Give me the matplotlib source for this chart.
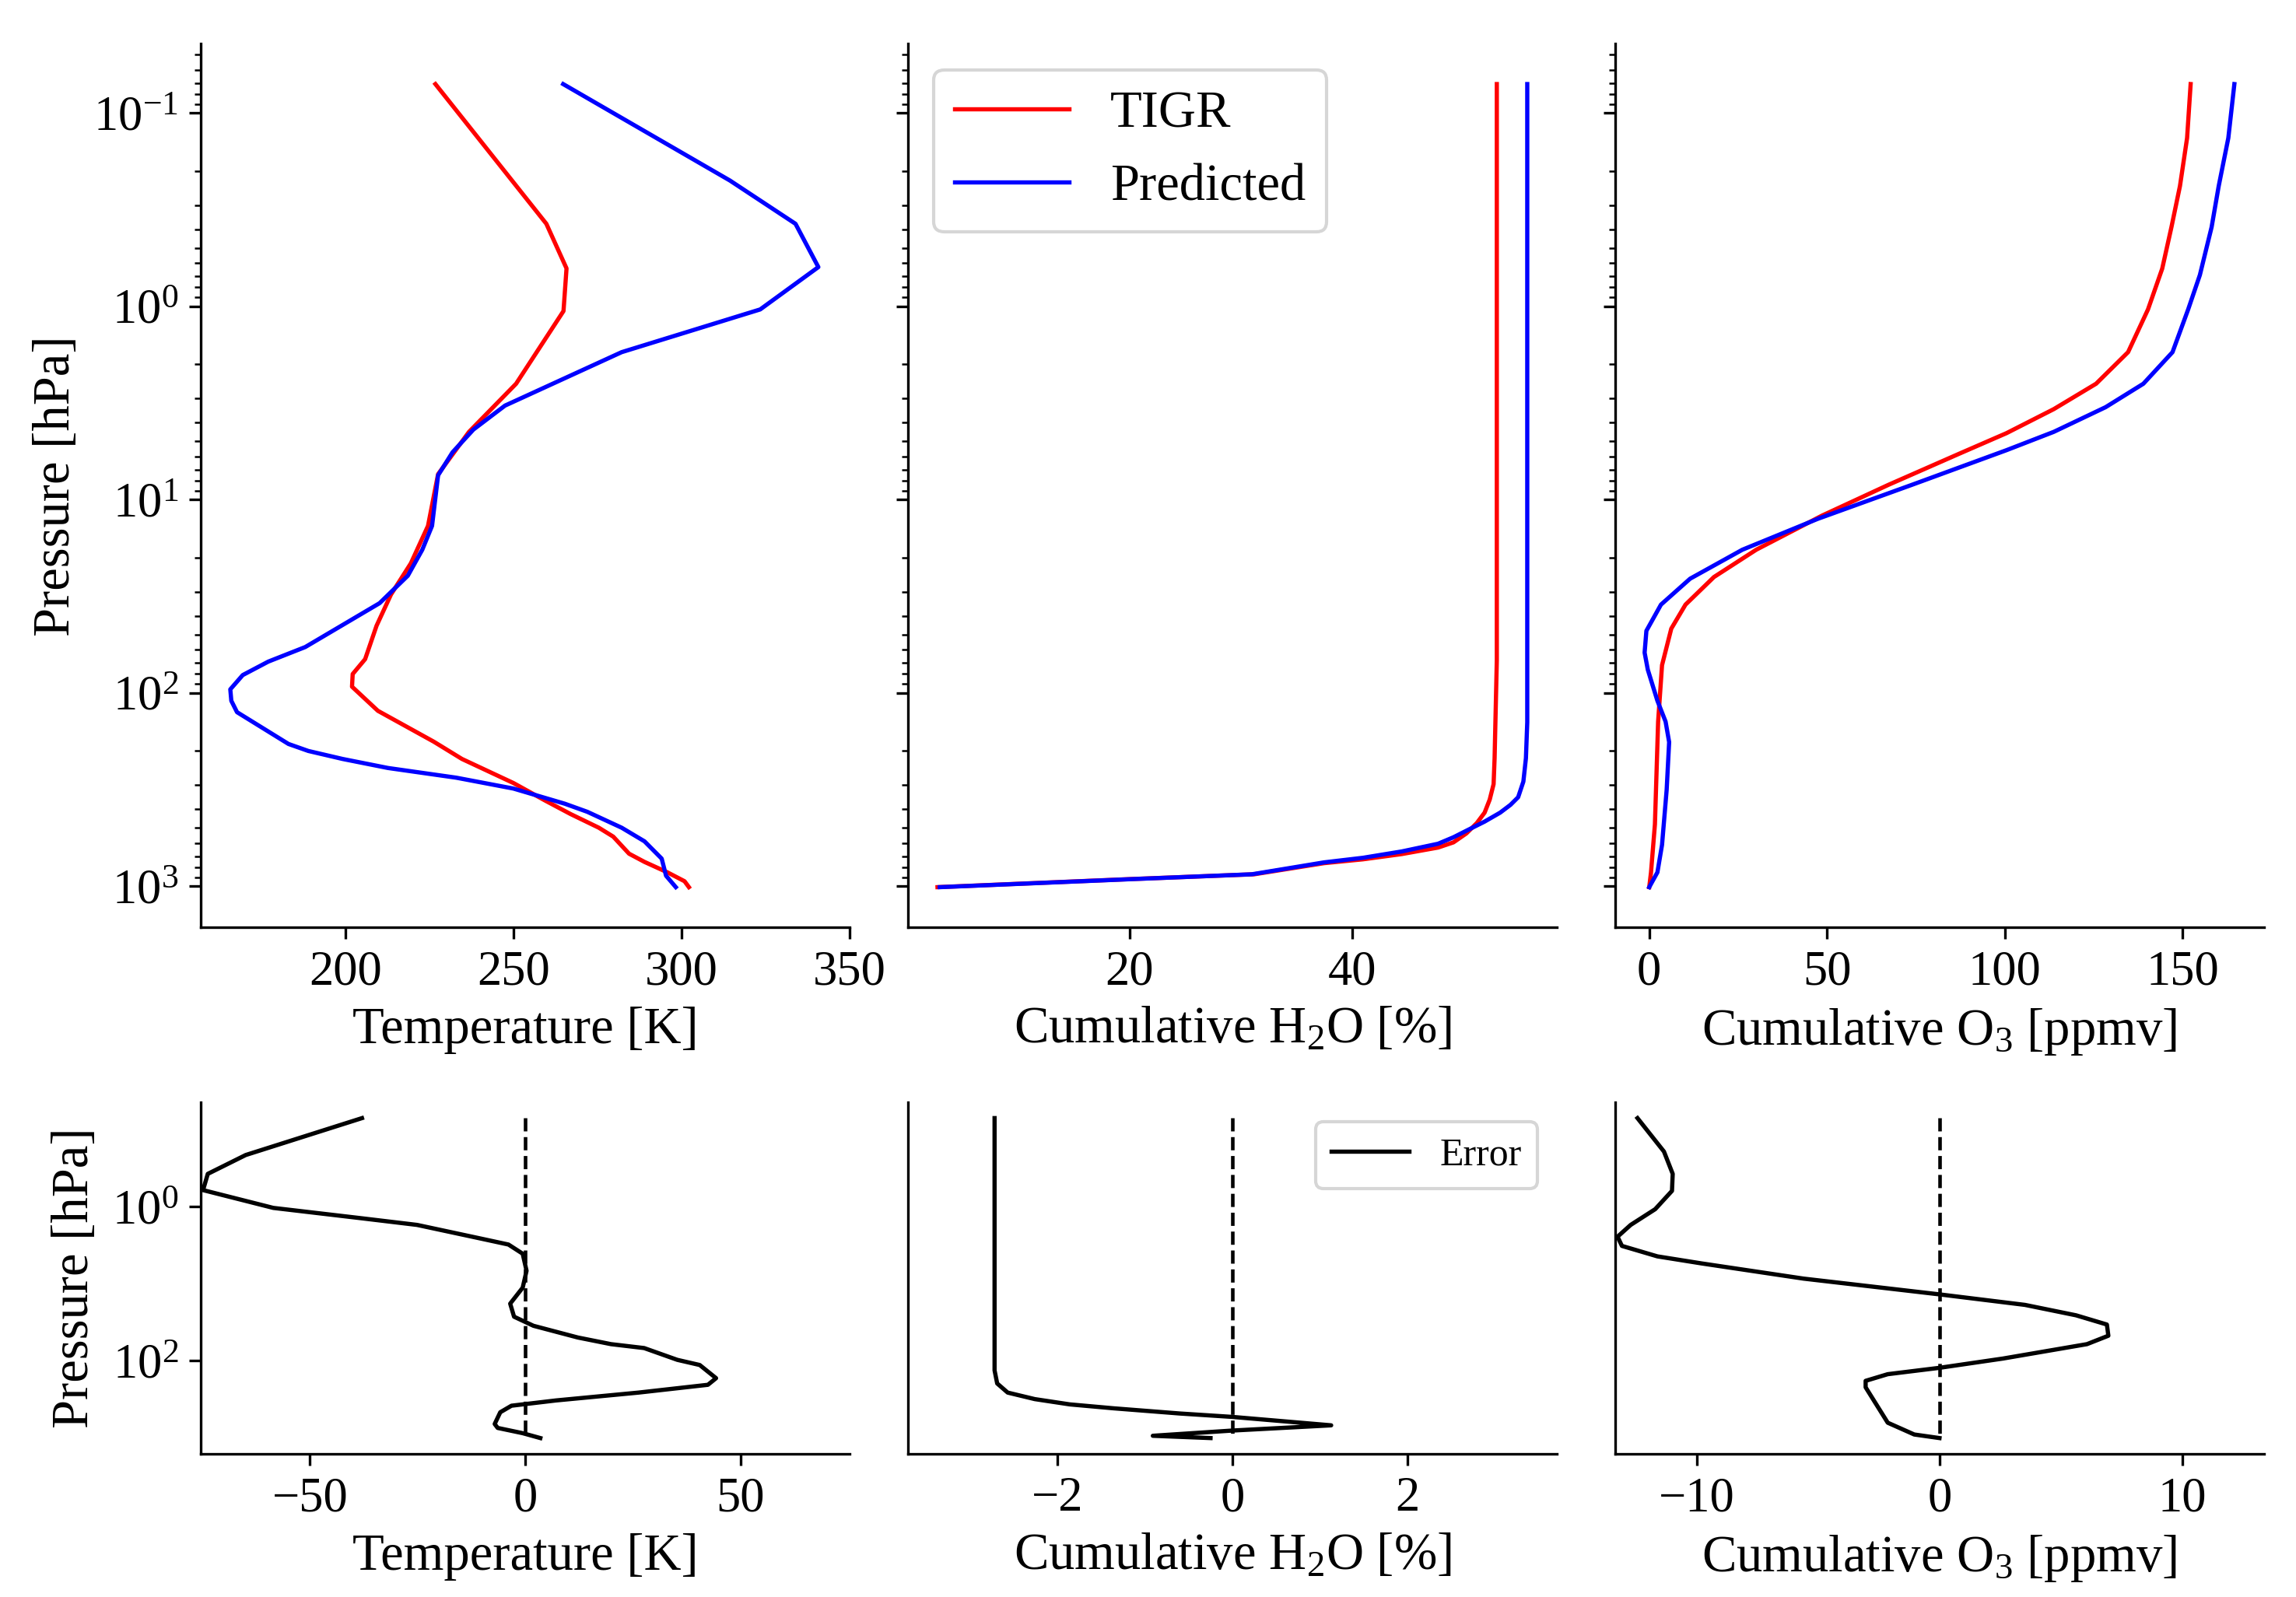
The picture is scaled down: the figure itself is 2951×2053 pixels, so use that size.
import matplotlib
matplotlib.use("Agg")
import matplotlib.pyplot as plt
from matplotlib.ticker import NullLocator

plt.rcParams['font.family'] = ['Liberation Serif', 'DejaVu Serif']
plt.rcParams['mathtext.fontset'] = 'custom'
plt.rcParams['mathtext.rm'] = 'Liberation Serif'
plt.rcParams['mathtext.it'] = 'Liberation Serif:italic'
plt.rcParams['mathtext.bf'] = 'Liberation Serif:bold'

# ---- profiles ----
p_t_tigr = [0.071, 0.375, 0.638, 1.06, 2.52, 4.47, 7.4, 13.7, 21.4, 31, 45, 67, 80, 93,
            124, 179, 220, 293, 360, 424, 499, 555, 680, 750, 849, 944, 1013]
t_tigr = [226.8, 259.8, 265.8, 264.9, 250.8, 236.8, 227.6, 224.6, 219.5, 213.6, 209.3, 205.9,
          202.2, 202.0, 209.7, 226.3, 234.7, 250.0, 259.3, 267.0, 275.4, 279.7, 284.4, 289.0,
          295.8, 300.9, 302.2]

p_t_pred = [0.071, 0.224, 0.375, 0.628, 1.04, 1.73, 3.27, 4.35, 5.7, 7.5, 13.7, 18.2, 24.8,
            34.4, 58, 69, 81, 96, 110, 126, 184, 200, 220, 245, 275, 313, 375, 413, 499, 587,
            721, 884, 1013]
t_pred = [264.8, 314.4, 333.9, 340.7, 323.4, 282.2, 247.5, 238.1, 231.9, 227.6, 225.8, 222.9,
          218.6, 210.2, 188.1, 177.1, 169.5, 165.8, 166.1, 167.8, 183.1, 189.0, 199.2, 212.7,
          233.0, 250.0, 265.3, 272.0, 282.2, 289.0, 294.1, 295.4, 298.3]

p_h2o_tigr = [0.071, 67.8, 218, 297, 357, 417, 472, 534, 594, 632, 683, 727, 761, 869,
              920, 1013]
h2o_tigr = [53.05, 53.05, 52.85, 52.76, 52.41, 51.95, 51.25, 50.31, 49.15, 47.76, 44.49,
            41.0, 37.5, 31.2, 20.1, 2.7]

p_h2o_pred = [0.071, 142, 218, 288, 347, 380, 417, 464, 509, 559, 604, 662, 714, 754, 869,
              920, 1013]
h2o_pred = [55.79, 55.79, 55.67, 55.44, 54.97, 54.28, 53.35, 51.95, 50.55, 49.15, 47.76,
            44.49, 41.0, 37.5, 31.0, 20.3, 2.9]

p_o3_tigr = [0.071, 0.135, 0.239, 0.39, 0.64, 1.04, 1.73, 2.52, 3.41, 4.54, 5.8, 8.4, 12.1,
             18.2, 25.2, 35, 46.6, 72, 141, 479, 849, 1013]
o3_tigr = [152.3, 151.3, 149.3, 146.9, 144.3, 140.3, 134.7, 125.7, 113.8, 100.5, 87.2, 67.3,
           48.7, 30.1, 18.2, 10.2, 6.2, 3.6, 2.5, 1.6, 0.5, 0.0]

p_o3_pred = [0.071, 0.135, 0.239, 0.39, 0.69, 1.04, 1.73, 2.52, 3.33, 4.47, 5.56, 8.4, 12.6,
             18.2, 25.7, 35, 47.8, 62, 76, 110, 141, 180, 318, 612, 849, 1013]
o3_pred = [164.6, 162.9, 160.2, 158.2, 154.9, 151.6, 147.2, 139.0, 128.4, 113.8, 100.5, 73.9,
           47.4, 26.2, 11.5, 3.3, -0.8, -1.3, -0.4, 2.3, 4.6, 5.6, 4.9, 3.6, 2.3, 0.0]

# ---- errors (TIGR - predicted) ----
p_t_err = [0.071, 0.214, 0.376, 0.611, 1.04, 1.42, 1.73, 2.56, 3.11, 4.09, 6.81, 11.3, 18.2,
           26.9, 35.3, 50.1, 61.1, 68.7, 97.7, 114, 169, 206, 260, 329, 385, 468, 665, 748,
           875, 1013]
t_err = [-37.9, -64.9, -73.7, -74.8, -58.5, -37.9, -25.1, -10.9, -3.9, -0.6, 0.3, -0.6, -3.5,
         -2.6, 1.9, 12.2, 19.9, 27.6, 35.3, 40.5, 44.3, 42.4, 26.3, 7.1, -3.2, -5.8, -7.1,
         -6.4, -0.6, 3.5]

p_h2o_err = [0.071, 134, 198, 260, 316, 370, 416, 486, 538, 692, 809, 946, 1013]
h2o_err = [-2.72, -2.72, -2.69, -2.57, -2.26, -1.86, -1.36, -0.60, 0.0, 1.13, 0.0, -0.91, -0.25]

p_o3_err = [0.071, 0.193, 0.376, 0.625, 1.08, 1.73, 2.46, 3.24, 4.43, 5.47, 8.61, 13.8, 18.9,
            25.8, 34.0, 47.5, 61.1, 94.0, 124, 150, 183, 222, 640, 910, 1013]
o3_err = [-12.43, -11.34, -10.98, -11.01, -11.7, -12.71, -13.25, -13.07, -11.61, -9.79, -5.6,
          0.0, 3.52, 5.62, 6.89, 6.95, 6.07, 2.61, 0.0, -2.13, -3.04, -3.04, -2.13, -1.04, 0.0]

xlabels = ['Temperature [K]', 'Cumulative H$_2$O [%]', 'Cumulative O$_3$ [ppmv]']
top_xticks = [[200, 250, 300, 350], [20, 40], [0, 50, 100, 150]]
bot_xticks = [[-50, 0, 50], [-2, 0, 2], [-10, 0, 10]]
bot_xlims = [(-75.3, 75.3), (-3.71, 3.71), (-13.35, 13.35)]

LABEL_FS = 16
TICK_FS = 15
LW = 1.3

fig = plt.figure(figsize=(2951 / 300, 2053 / 300), dpi=300)
gs = fig.add_gridspec(2, 3, height_ratios=[2.51, 1], left=0.0875, right=0.986,
                      top=0.9725, bottom=0.0895, hspace=0.283, wspace=0.09)

top_axes = []
for i in range(3):
    ax = fig.add_subplot(gs[0, i], sharey=top_axes[0] if top_axes else None)
    top_axes.append(ax)
bot_axes = []
for i in range(3):
    ax = fig.add_subplot(gs[1, i], sharey=bot_axes[0] if bot_axes else None)
    bot_axes.append(ax)

top_data = [(p_t_tigr, t_tigr, p_t_pred, t_pred),
            (p_h2o_tigr, h2o_tigr, p_h2o_pred, h2o_pred),
            (p_o3_tigr, o3_tigr, p_o3_pred, o3_pred)]
for ax, (pr, vr, pb, vb) in zip(top_axes, top_data):
    ax.plot(vr, pr, color='red', lw=LW, label='TIGR')
    ax.plot(vb, pb, color='blue', lw=LW, label='Predicted')
    ax.set_yscale('log')

top_axes[0].invert_yaxis()

err_data = [(p_t_err, t_err), (p_h2o_err, h2o_err), (p_o3_err, o3_err)]
for ax, (pe, ve) in zip(bot_axes, err_data):
    ax.plot(ve, pe, color='black', lw=LW, label='Error')
    ax.plot([0, 0], [min(pe), max(pe)], 'k--', lw=1.1)
    ax.set_yscale('log')
bot_axes[0].invert_yaxis()
bot_axes[0].set_yticks([1, 100])
bot_axes[0].yaxis.set_minor_locator(NullLocator())

for i, ax in enumerate(top_axes + bot_axes):
    ax.spines['top'].set_visible(False)
    ax.spines['right'].set_visible(False)
    ax.tick_params(labelsize=TICK_FS)
    ax.set_xlabel(xlabels[i % 3], fontsize=LABEL_FS, labelpad=3.5)

for i, ax in enumerate(top_axes):
    ax.set_xticks(top_xticks[i])
    if i > 0:
        ax.tick_params(axis='y', which='both', labelleft=False)
for i, ax in enumerate(bot_axes):
    ax.set_xticks(bot_xticks[i])
    ax.set_xlim(*bot_xlims[i])
    if i > 0:
        ax.tick_params(axis='y', which='both', left=False, labelleft=False)

top_axes[0].set_ylabel('Pressure [hPa]', fontsize=LABEL_FS)
bot_axes[0].set_ylabel('Pressure [hPa]', fontsize=LABEL_FS)

top_axes[1].legend(loc='upper left', fontsize=LABEL_FS, handlelength=2.2)
bot_axes[1].legend(loc='upper right', fontsize=12)

fig.savefig('out.png', dpi=300)
